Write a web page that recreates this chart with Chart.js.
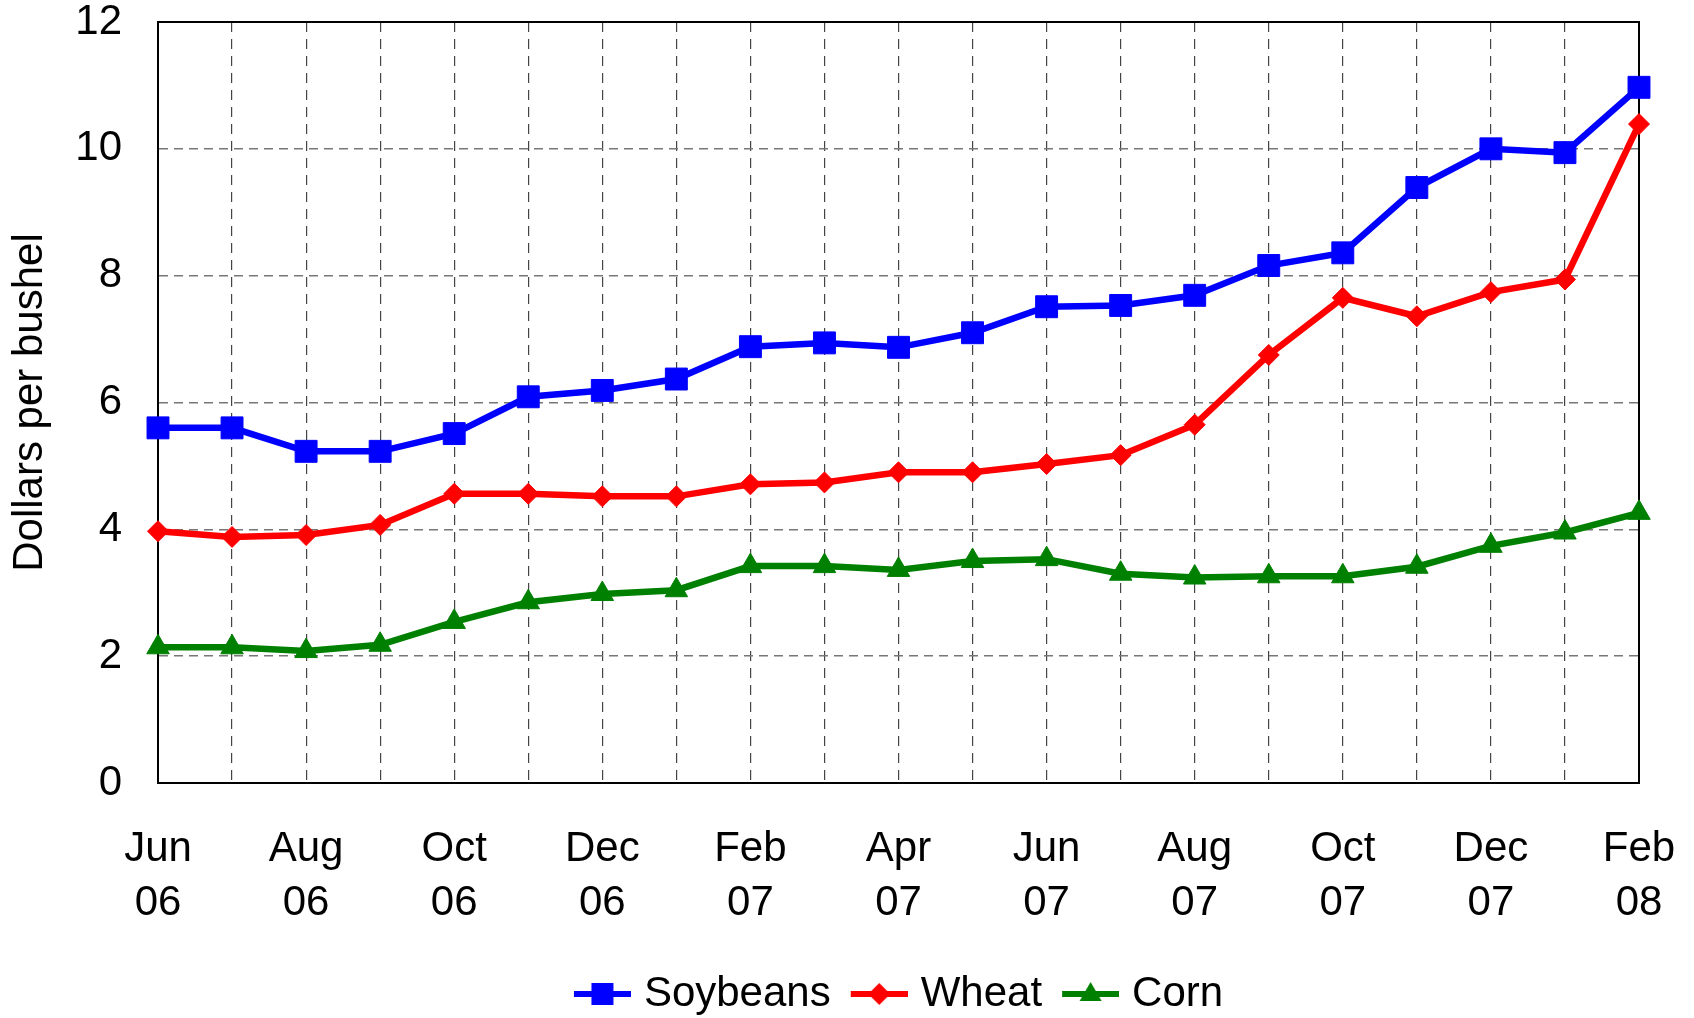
<!DOCTYPE html>
<html>
<head>
<meta charset="utf-8">
<title>Soybeans, wheat and corn prices</title>
<script src="https://cdn.jsdelivr.net/npm/chart.js@4/dist/chart.umd.min.js"></script>
<style>
  html, body { margin: 0; padding: 0; background: #fff; overflow: hidden; }
  #wrap { position: relative; width: 1694px; height: 1018px; }
</style>
</head>
<body>
<div id="wrap"><canvas id="priceChart"></canvas></div>
<script>
const months = ['Jun 06', 'Jul 06', 'Aug 06', 'Sep 06', 'Oct 06', 'Nov 06', 'Dec 06',
  'Jan 07', 'Feb 07', 'Mar 07', 'Apr 07', 'May 07', 'Jun 07', 'Jul 07', 'Aug 07',
  'Sep 07', 'Oct 07', 'Nov 07', 'Dec 07', 'Jan 08', 'Feb 08'];
const soybeans = [5.60, 5.60, 5.23, 5.23, 5.51, 6.09, 6.19, 6.37, 6.88, 6.94, 6.87,
  7.10, 7.51, 7.53, 7.69, 8.16, 8.36, 9.39, 10.00, 9.94, 10.97];
const wheat = [3.97, 3.88, 3.91, 4.07, 4.56, 4.56, 4.52, 4.52, 4.71, 4.74, 4.90,
  4.90, 5.03, 5.17, 5.65, 6.75, 7.65, 7.36, 7.74, 7.94, 10.39];
const corn = [2.14, 2.14, 2.08, 2.18, 2.54, 2.85, 2.98, 3.04, 3.42, 3.42, 3.36,
  3.50, 3.53, 3.30, 3.24, 3.26, 3.26, 3.41, 3.74, 3.95, 4.26];
const yMin = 0, yMax = 12, yStep = 2;

const FONT = "'Liberation Sans', Arial, sans-serif";

// little line + marker picture used as the legend symbol
function legendIcon(color, shape){
  const c = document.createElement('canvas');
  c.width = 65; c.height = 30;
  const g = c.getContext('2d');
  g.strokeStyle = color; g.fillStyle = color; g.lineWidth = 6;
  g.beginPath(); g.moveTo(8, 15); g.lineTo(65, 15); g.stroke();
  const cx = 36.5, cy = 15;
  g.beginPath();
  if(shape === 'rect'){
    g.rect(cx - 11, cy - 11, 22, 22);
  } else if(shape === 'rectRot'){
    g.moveTo(cx - 11, cy); g.lineTo(cx, cy - 11); g.lineTo(cx + 11, cy); g.lineTo(cx, cy + 11); g.closePath();
  } else {
    g.moveTo(cx, cy - 12); g.lineTo(cx + 11, cy + 7); g.lineTo(cx - 11, cy + 7); g.closePath();
  }
  g.fill();
  return c;
}
const icons = [legendIcon('#0000ff', 'rect'), legendIcon('#ff0000', 'rectRot'), legendIcon('#008000', 'triangle')];

// black frame round the plot area (top and right sides have no axis)
const frame = {
  id: 'frame',
  beforeDatasetsDraw(chart){
    const {ctx, chartArea: a} = chart;
    ctx.save();
    ctx.strokeStyle = '#000';
    ctx.lineWidth = 2;
    ctx.strokeRect(a.left, a.top, a.right - a.left, a.bottom - a.top);
    ctx.restore();
  }
};

const ctx = document.getElementById('priceChart').getContext('2d');
new Chart(ctx, {
  type: 'line',
  data: {
    labels: months,
    datasets: [{
      label: 'Soybeans',
      data: soybeans,
      borderColor: '#0000ff',
      backgroundColor: '#0000ff',
      borderWidth: 6.5,
      pointStyle: 'rect',
      pointRadius: 15.5,
      pointBorderWidth: 1,
      clip: false
    }, {
      label: 'Wheat',
      data: wheat,
      borderColor: '#ff0000',
      backgroundColor: '#ff0000',
      borderWidth: 6.5,
      pointStyle: 'rectRot',
      pointRadius: 10.5,
      pointBorderWidth: 1,
      clip: false
    }, {
      label: 'Corn',
      data: corn,
      borderColor: '#008000',
      backgroundColor: '#008000',
      borderWidth: 6.5,
      pointStyle: 'triangle',
      pointRadius: 13,
      pointBorderWidth: 1,
      clip: false
    }]
  },
  options: {
    responsive: true,
    maintainAspectRatio: false,
    animation: false,
    events: [],
    layout: { autoPadding: false, padding: { left: 0, right: 55, top: 22, bottom: -7 } },
    plugins: {
      tooltip: { enabled: false },
      legend: {
        position: 'bottom',
        fullSize: false,
        labels: {
          usePointStyle: true,
          pointStyleWidth: 49,
          padding: 20,
          color: '#000',
          font: { family: FONT, size: 42 },
          generateLabels(chart){
            const items = Chart.defaults.plugins.legend.labels.generateLabels(chart);
            items.forEach((it, i) => { it.pointStyle = icons[i]; });
            return items;
          }
        }
      }
    },
    scales: {
      x: {
        offset: false,
        grid: { color: '#444', lineWidth: 1.2, drawTicks: false },
        border: { display: true, color: '#000', width: 2, dash: [10, 7] },
        ticks: {
          autoSkip: false,
          maxRotation: 0,
          padding: 39,
          color: '#000',
          font: { family: FONT, size: 42, lineHeight: 54 / 42 },
          callback: (v, i) => i % 2 === 0 ? months[i].split(' ') : ''
        },
        afterFit: (scale) => {
          scale.height = 170;
          scale.paddingLeft = 0;
          scale.paddingRight = 0;
        }
      },
      y: {
        min: yMin,
        max: yMax,
        grid: { color: '#777', lineWidth: 1.5, drawTicks: false },
        border: { display: true, color: '#000', width: 2, dash: [9, 6] },
        ticks: {
          stepSize: yStep,
          padding: 36,
          color: '#000',
          font: { family: FONT, size: 42, lineHeight: 1 }
        },
        title: {
          display: true,
          text: 'Dollars per bushel',
          color: '#000',
          font: { family: FONT, size: 42 },
          padding: { top: 5, bottom: 21 }
        },
        afterFit: (scale) => {
          scale.width = 158;
          scale.paddingTop = 0;
          scale.paddingBottom = 0;
        }
      }
    }
  },
  plugins: [frame]
});
</script>
</body>
</html>
